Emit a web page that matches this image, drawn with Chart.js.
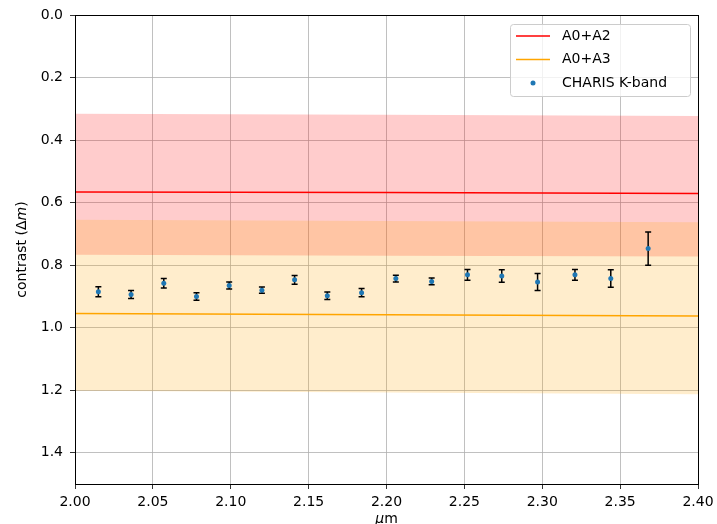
<!DOCTYPE html>
<html>
<head>
<meta charset="utf-8">
<script src="https://cdn.jsdelivr.net/npm/chart.js@4/dist/chart.umd.min.js"></script>
<style>
  html, body { margin: 0; padding: 0; background: #fff; }
  canvas { display: block; }
</style>
</head>
<body>
<canvas id="c" width="717" height="524"></canvas>
<script>
// CHARIS K-band measured contrast per spectral channel
const wavelengths = [2.015, 2.036, 2.057, 2.078, 2.099, 2.120, 2.141, 2.162, 2.184,
                     2.206, 2.229, 2.252, 2.274, 2.297, 2.321, 2.344, 2.368];
const charisContrast = [0.885, 0.894, 0.858, 0.900, 0.865, 0.880, 0.847, 0.898, 0.888,
                        0.843, 0.852, 0.831, 0.835, 0.854, 0.831, 0.843, 0.747];
const charisError = [0.016, 0.013, 0.015, 0.012, 0.011, 0.010, 0.014, 0.012, 0.013,
                     0.011, 0.011, 0.017, 0.020, 0.027, 0.017, 0.028, 0.053];

// model curves and their uncertainty ranges
const modelWavelengths = [2.00, 2.20, 2.40];
const a0a2 = [0.566, 0.568, 0.571];
const a0a2Low = [0.316, 0.319, 0.323];
const a0a2High = [0.767, 0.770, 0.772];
const a0a3 = [0.955, 0.959, 0.963];
const a0a3Low = [0.655, 0.659, 0.663];
const a0a3High = [1.202, 1.207, 1.213];

// axis ticks
const xTicks = [2.00, 2.05, 2.10, 2.15, 2.20, 2.25, 2.30, 2.35, 2.40];
const yTicks = [0.0, 0.2, 0.4, 0.6, 0.8, 1.0, 1.2, 1.4];

const FONT = '"DejaVu Sans", sans-serif';
const pts = (xs, ys) => xs.map((x, i) => ({ x: x, y: ys[i] }));

const errorBars = {
  id: 'errorBars',
  beforeDatasetDraw(chart, args) {
    const ds = chart.data.datasets[args.index];
    if (!ds.errors) return;
    const { ctx, scales: { x, y } } = chart;
    ctx.save();
    ctx.strokeStyle = '#000';
    ctx.lineWidth = 1.5;
    ds.data.forEach((p, i) => {
      const px = x.getPixelForValue(p.x);
      const y1 = y.getPixelForValue(p.y - ds.errors[i]);
      const y2 = y.getPixelForValue(p.y + ds.errors[i]);
      ctx.beginPath();
      ctx.moveTo(px, y1); ctx.lineTo(px, y2);
      ctx.moveTo(px - 3, y1); ctx.lineTo(px + 3, y1);
      ctx.moveTo(px - 3, y2); ctx.lineTo(px + 3, y2);
      ctx.stroke();
    });
    ctx.restore();
  }
};

const decorations = {
  id: 'decorations',
  afterDraw(chart) {
    const { ctx, chartArea: a } = chart;
    ctx.save();
    // frame
    ctx.strokeStyle = '#000';
    ctx.lineWidth = 1;
    ctx.strokeRect(Math.round(a.left) + 0.5, Math.round(a.top) + 0.5,
                   Math.round(a.right - a.left), Math.round(a.bottom - a.top));

    // x title: italic mu followed by upright m
    ctx.fillStyle = '#000';
    ctx.textBaseline = 'alphabetic';
    const cx = (a.left + a.right) / 2;
    ctx.font = 'italic 14px ' + FONT;
    const wMu = ctx.measureText('\u03bc').width;
    ctx.font = '14px ' + FONT;
    const wM = ctx.measureText('m').width;
    let sx = cx - (wMu + wM) / 2;
    ctx.textAlign = 'left';
    ctx.font = 'italic 14px ' + FONT;
    ctx.fillText('\u03bc', sx, 523);
    ctx.font = '14px ' + FONT;
    ctx.fillText('m', sx + wMu, 523);

    // y title: contrast (Δm) with italic m
    ctx.textBaseline = 'middle';
    ctx.save();
    ctx.translate(22, (a.top + a.bottom) / 2);
    ctx.rotate(-Math.PI / 2);
    const parts = [['contrast (\u0394', '14px '], ['m', 'italic 14px '], [')', '14px ']];
    let total = 0;
    parts.forEach(p => { ctx.font = p[1] + FONT; total += ctx.measureText(p[0]).width; });
    let tx = -total / 2;
    parts.forEach(p => {
      ctx.font = p[1] + FONT;
      ctx.fillText(p[0], tx, 0);
      tx += ctx.measureText(p[0]).width;
    });
    ctx.restore();

    // legend
    const lx = 510.5, ly = 24.5, lw = 180, lh = 72;
    ctx.beginPath();
    ctx.roundRect(lx, ly, lw, lh, 3);
    ctx.fillStyle = 'rgba(255,255,255,0.8)';
    ctx.fill();
    ctx.strokeStyle = '#cccccc';
    ctx.stroke();
    const entries = chart.data.datasets.filter(d => d.inLegend);
    entries.forEach((d, i) => {
      const ey = 36 + i * 23.5;
      if (d.showLine === false) {
        ctx.beginPath();
        ctx.arc(533, ey, 2.5, 0, Math.PI * 2);
        ctx.fillStyle = d.pointBackgroundColor;
        ctx.fill();
      } else {
        ctx.beginPath();
        ctx.moveTo(516, ey); ctx.lineTo(550, ey);
        ctx.strokeStyle = d.borderColor;
        ctx.lineWidth = 1.5;
        ctx.stroke();
      }
      ctx.fillStyle = '#000';
      ctx.font = '14px ' + FONT;
      ctx.textAlign = 'left';
      ctx.fillText(d.label, 562, ey);
    });
    ctx.restore();
  }
};

new Chart(document.getElementById('c'), {
  type: 'line',
  data: {
    datasets: [
      { label: 'A0+A2 range', data: pts(modelWavelengths, a0a2Low), fill: '+1',
        backgroundColor: 'rgba(255,0,0,0.2)', borderWidth: 0, pointRadius: 0, order: 10 },
      { label: 'A0+A2 range end', data: pts(modelWavelengths, a0a2High), fill: false,
        borderWidth: 0, pointRadius: 0, order: 10 },
      { label: 'A0+A3 range', data: pts(modelWavelengths, a0a3Low), fill: '+1',
        backgroundColor: 'rgba(255,165,0,0.2)', borderWidth: 0, pointRadius: 0, order: 9 },
      { label: 'A0+A3 range end', data: pts(modelWavelengths, a0a3High), fill: false,
        borderWidth: 0, pointRadius: 0, order: 9 },
      { label: 'A0+A2', data: pts(modelWavelengths, a0a2), borderColor: 'red',
        borderWidth: 1.5, pointRadius: 0, fill: false, order: 5, inLegend: true },
      { label: 'A0+A3', data: pts(modelWavelengths, a0a3), borderColor: 'orange',
        borderWidth: 1.5, pointRadius: 0, fill: false, order: 4, inLegend: true },
      { label: 'CHARIS K-band', data: pts(wavelengths, charisContrast), errors: charisError,
        showLine: false, pointRadius: 2.5, pointBorderWidth: 0,
        pointBackgroundColor: '#1f77b4', order: 0, inLegend: true }
    ]
  },
  options: {
    responsive: false,
    animation: false,
    layout: { padding: { top: 15, right: 19, left: 0, bottom: 0 } },
    plugins: { legend: { display: false }, tooltip: { enabled: false } },
    scales: {
      x: {
        type: 'linear', min: 2.0, max: 2.4,
        afterBuildTicks: s => { s.ticks = xTicks.map(v => ({ value: v })); },
        afterFit: s => { s.height = 40; s.paddingRight = 0; s.paddingLeft = 0; },
        ticks: { callback: v => v.toFixed(2), color: '#000', padding: 5,
                 font: { family: FONT, size: 14 }, maxRotation: 0 },
        grid: { color: '#b0b0b0', lineWidth: 0.8, tickColor: '#000', tickLength: 5 },
        border: { color: '#000', width: 1 }
      },
      y: {
        type: 'linear', min: 0, max: 1.5, reverse: true,
        afterBuildTicks: s => { s.ticks = yTicks.map(v => ({ value: v })); },
        afterFit: s => { s.width = 75; s.paddingTop = 0; s.paddingBottom = 0; },
        ticks: { callback: v => v.toFixed(1), color: '#000', padding: 7,
                 font: { family: FONT, size: 14 } },
        grid: { color: '#b0b0b0', lineWidth: 0.8, tickColor: '#000', tickLength: 5 },
        border: { color: '#000', width: 1 }
      }
    }
  },
  plugins: [errorBars, decorations]
});
</script>
</body>
</html>
